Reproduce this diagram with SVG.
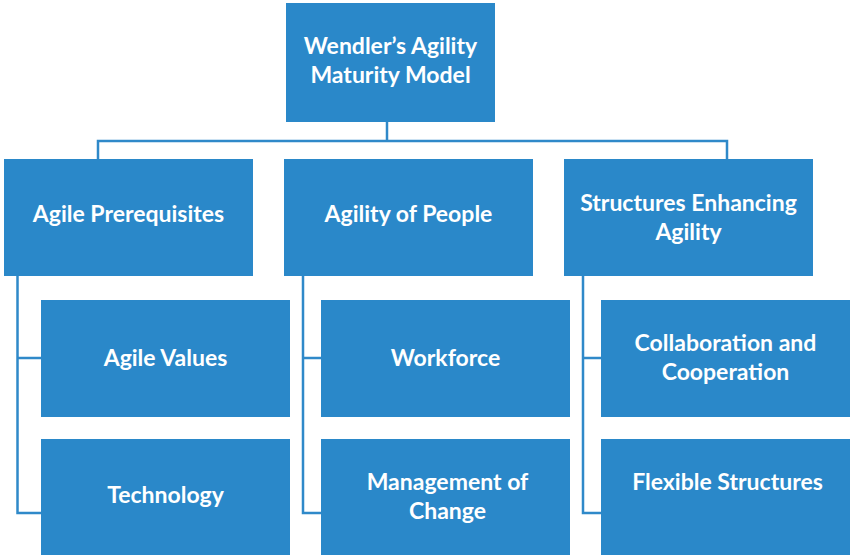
<svg xmlns="http://www.w3.org/2000/svg" width="850" height="555" viewBox="0 0 850 555">
<style>
.box{fill:#2A88C9;}
.lbl{font-family:Lato,"Open Sans",sans-serif;font-weight:bold;font-size:23px;fill:#FFFFFF;text-anchor:middle;}
.con{fill:none;stroke:#2F89C9;stroke-width:2.5;}
</style>
<rect width="850" height="555" fill="#FFFFFF"/>
<g id="connectors">
<polyline class="con" points="387,122 387,141"/>
<polyline class="con" points="98,159 98,141 727,141 727,159"/>
<polyline class="con" points="17.5,276 17.5,513 41,513"/>
<polyline class="con" points="17.5,358 41,358"/>
<polyline class="con" points="303,276 303,513 321,513"/>
<polyline class="con" points="303,358 321,358"/>
<polyline class="con" points="583,276 583,513 601,513"/>
<polyline class="con" points="583,358 601,358"/>
</g>
<g id="root">
<rect class="box" x="286" y="3" width="209" height="119"/>
<text class="lbl" x="390.5" y="54">Wendler’s Agility</text>
<text class="lbl" x="390.5" y="83">Maturity Model</text>
</g>
<g id="agile-prerequisites">
<rect class="box" x="4" y="159" width="249" height="117"/>
<text class="lbl" x="128.5" y="222">Agile Prerequisites</text>
</g>
<g id="agility-of-people">
<rect class="box" x="284" y="159" width="249" height="117"/>
<text class="lbl" x="408.5" y="222">Agility of People</text>
</g>
<g id="structures-enhancing-agility">
<rect class="box" x="564" y="159" width="249" height="117"/>
<text class="lbl" x="688.5" y="211">Structures Enhancing</text>
<text class="lbl" x="688.5" y="240">Agility</text>
</g>
<g id="agile-values">
<rect class="box" x="41" y="300" width="249" height="117"/>
<text class="lbl" x="165.5" y="366">Agile Values</text>
</g>
<g id="technology">
<rect class="box" x="41" y="439" width="249" height="117"/>
<text class="lbl" x="165.5" y="503">Technology</text>
</g>
<g id="workforce">
<rect class="box" x="321" y="300" width="249" height="117"/>
<text class="lbl" x="445.5" y="366">Workforce</text>
</g>
<g id="management-of-change">
<rect class="box" x="321" y="439" width="249" height="117"/>
<text class="lbl" x="447.5" y="490">Management of</text>
<text class="lbl" x="447.5" y="519">Change</text>
</g>
<g id="collaboration-and-cooperation">
<rect class="box" x="601" y="300" width="249" height="117"/>
<text class="lbl" x="725.5" y="351">Collaboration and</text>
<text class="lbl" x="725.5" y="380">Cooperation</text>
</g>
<g id="flexible-structures">
<rect class="box" x="601" y="439" width="249" height="117"/>
<text class="lbl" x="727.5" y="490">Flexible Structures</text>
</g>
</svg>
